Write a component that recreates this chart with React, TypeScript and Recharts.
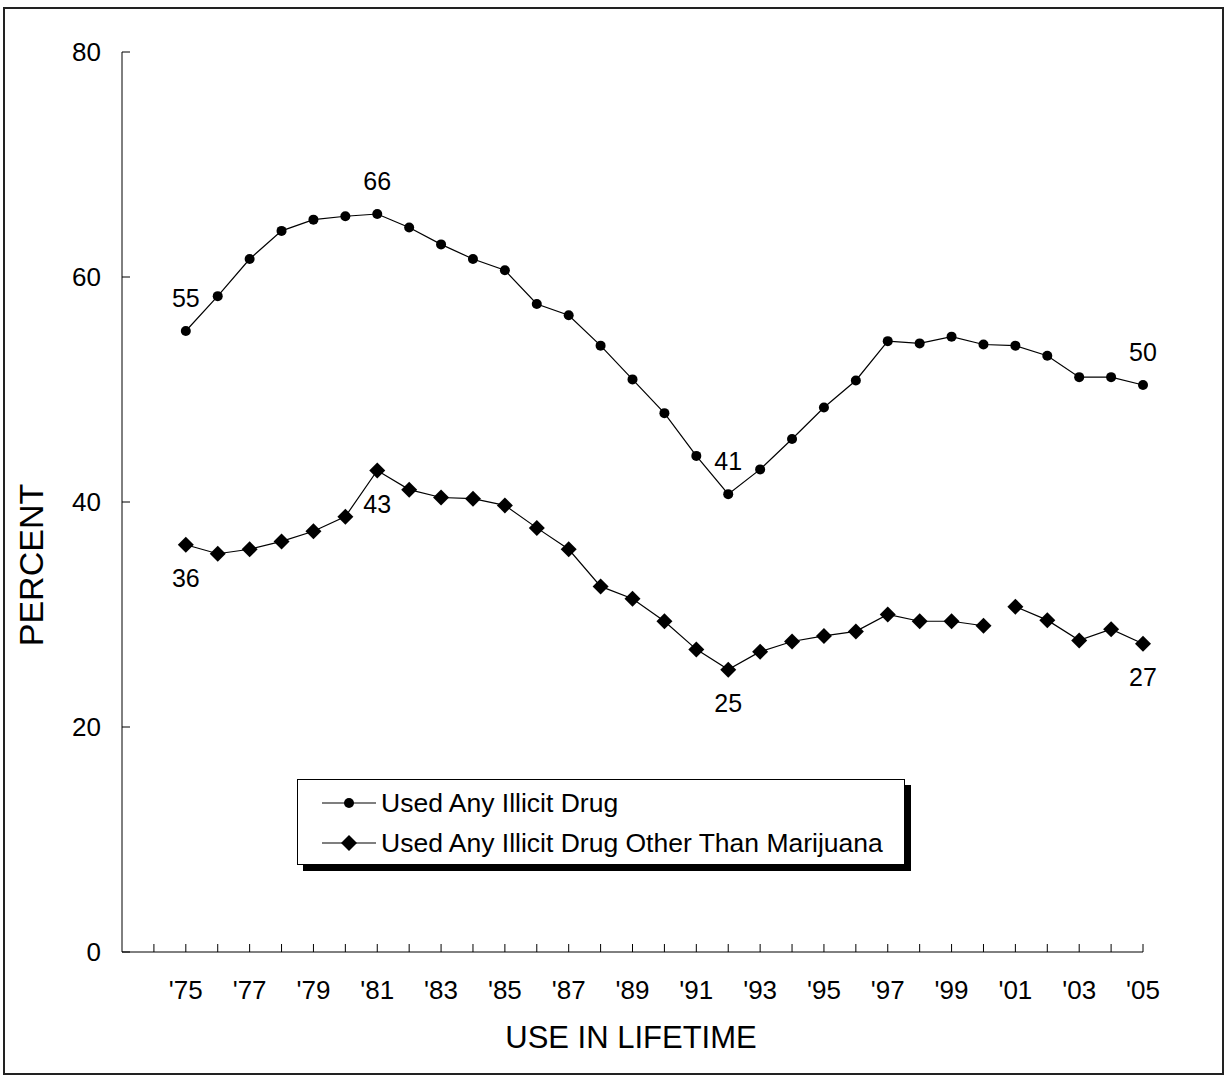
import React from 'react';
import { LineChart, Line, XAxis, YAxis, Legend } from 'recharts';

const FONT = '"Liberation Sans", Arial, Helvetica, sans-serif';

// survey years and lifetime-use percentages (12th graders)
const years = [1975, 1976, 1977, 1978, 1979, 1980, 1981, 1982, 1983, 1984, 1985, 1986, 1987, 1988, 1989, 1990,
  1991, 1992, 1993, 1994, 1995, 1996, 1997, 1998, 1999, 2000, 2001, 2002, 2003, 2004, 2005];
const anyDrug = [55.2, 58.3, 61.6, 64.1, 65.1, 65.4, 65.6, 64.4, 62.9, 61.6, 60.6, 57.6, 56.6, 53.9, 50.9, 47.9,
  44.1, 40.7, 42.9, 45.6, 48.4, 50.8, 54.3, 54.1, 54.7, 54.0, 53.9, 53.0, 51.1, 51.1, 50.4];
const otherDrug = [36.2, 35.4, 35.8, 36.5, 37.4, 38.7, 42.8, 41.1, 40.4, 40.3, 39.7, 37.7, 35.8, 32.5, 31.4, 29.4,
  26.9, 25.1, 26.7, 27.6, 28.1, 28.5, 30.0, 29.4, 29.4, 29.0, 30.7, 29.5, 27.7, 28.7, 27.4];
// question wording changed after this year, so the line breaks there
const lastOldWording = 2000;

const labeledYears = [1975, 1981, 1992, 2005];
const xTicks = [1974, 1975, 1976, 1977, 1978, 1979, 1980, 1981, 1982, 1983, 1984, 1985, 1986, 1987, 1988, 1989,
  1990, 1991, 1992, 1993, 1994, 1995, 1996, 1997, 1998, 1999, 2000, 2001, 2002, 2003, 2004, 2005];
const yTicks = [0, 20, 40, 60, 80];

const legendItems = [
  { name: 'Used Any Illicit Drug', shape: 'circle' },
  { name: 'Used Any Illicit Drug Other Than Marijuana', shape: 'diamond' },
];

const data = years.map((year, i) => ({
  year,
  any: anyDrug[i],
  otherA: year <= lastOldWording ? otherDrug[i] : null,
  otherB: year > lastOldWording ? otherDrug[i] : null,
}));

const diamondPath = (cx: number, cy: number, r: number) =>
  `M${cx},${cy - r}L${cx + r},${cy}L${cx},${cy + r}L${cx - r},${cy}Z`;

const CircleDot = (p: any) => {
  if (p.cy == null || p.cx == null) return <g key={p.index} />;
  return <circle key={p.index} cx={p.cx} cy={p.cy} r={5} fill="#000" />;
};

const DiamondDot = (p: any) => {
  if (p.cy == null || p.cx == null) return <g key={p.index} />;
  return <path key={p.index} d={diamondPath(p.cx, p.cy, 8)} fill="#000" />;
};

const pointLabel = (dir: number) => (p: any) => {
  if (p.value == null || !labeledYears.includes(years[p.index])) return null;
  return (
    <text key={p.index} x={p.x} y={p.y + dir * 33} textAnchor="middle" dominantBaseline="central"
      fontFamily={FONT} fontSize={25} fill="#000">
      {Math.round(p.value)}
    </text>
  );
};

const YTick = (p: any) => (
  <g>
    <line x1={p.x} x2={p.x + 8} y1={p.y} y2={p.y} stroke="#000" />
    <text x={p.x - 21} y={p.y} textAnchor="end" dominantBaseline="central" fontFamily={FONT} fontSize={26} fill="#000">
      {p.payload.value}
    </text>
  </g>
);

const XTick = (p: any) => {
  const yr = p.payload.value;
  return (
    <g>
      <line x1={p.x} x2={p.x} y1={p.y} y2={p.y - 8} stroke="#000" />
      {yr >= 1975 && yr % 2 === 1 && (
        <text x={p.x} y={p.y + 38} textAnchor="middle" dominantBaseline="central" fontFamily={FONT} fontSize={26} fill="#000">
          {"'" + String(yr).slice(2)}
        </text>
      )}
    </g>
  );
};

const LegendBox = () => (
  <div style={{
    width: 608, height: 86, boxSizing: 'border-box', border: '1px solid #000', background: '#fff',
    boxShadow: '6px 6px 0 #000', fontFamily: FONT, fontSize: 26.5, color: '#000', paddingTop: 3,
  }}>
    {legendItems.map((item) => (
      <div key={item.name} style={{ display: 'flex', alignItems: 'center', height: 40, paddingLeft: 24 }}>
        <svg width={54} height={20} style={{ flex: 'none' }}>
          <line x1={0} x2={54} y1={10} y2={10} stroke="#000" strokeWidth={1.2} />
          {item.shape === 'circle'
            ? <circle cx={27} cy={10} r={5} fill="#000" />
            : <path d={diamondPath(27, 10, 8)} fill="#000" />}
        </svg>
        <span style={{ marginLeft: 5, whiteSpace: 'nowrap' }}>{item.name}</span>
      </div>
    ))}
  </div>
);

export default function App() {
  return (
    <div style={{ position: 'absolute', left: 0, top: 0, width: 1225, height: 1076, background: '#fff' }}>
      <LineChart width={1225} height={1076} data={data} margin={{ top: 52, right: 82, left: 62, bottom: 84 }}>
        <XAxis
          type="number" dataKey="year" domain={[1973, 2005]} ticks={xTicks} interval={0} height={40}
          tickLine={false} tickSize={0} tickMargin={0} tick={<XTick />} axisLine={{ stroke: '#000' }}
          label={{
            content: () => (
              <text x={631} y={1037} textAnchor="middle" dominantBaseline="central" fontFamily={FONT} fontSize={31} fill="#000">
                USE IN LIFETIME
              </text>
            ),
          }}
        />
        <YAxis
          type="number" domain={[0, 80]} ticks={yTicks} interval={0} width={60}
          tickLine={false} tickSize={0} tickMargin={0} tick={<YTick />} axisLine={{ stroke: '#000' }}
          label={{
            content: () => (
              <text x={31} y={565} transform="rotate(-90 31 565)" textAnchor="middle" dominantBaseline="central"
                fontFamily={FONT} fontSize={34} fill="#000">
                PERCENT
              </text>
            ),
          }}
        />
        <Legend
          layout="horizontal" verticalAlign="middle" align="center" content={<LegendBox />}
          wrapperStyle={{ left: 297, top: 779, width: 620, height: 95 }}
        />
        <Line dataKey="any" stroke="#000" strokeWidth={1.2} dot={CircleDot} activeDot={false}
          label={pointLabel(-1)} isAnimationActive={false} legendType="none" />
        <Line dataKey="otherA" stroke="#000" strokeWidth={1.2} dot={DiamondDot} activeDot={false}
          label={pointLabel(1)} isAnimationActive={false} legendType="none" />
        <Line dataKey="otherB" stroke="#000" strokeWidth={1.2} dot={DiamondDot} activeDot={false}
          label={pointLabel(1)} isAnimationActive={false} legendType="none" />
      </LineChart>
      <div style={{
        position: 'absolute', left: 3, top: 7, width: 1221, height: 1068, boxSizing: 'border-box',
        border: '2px solid #222', pointerEvents: 'none',
      }} />
    </div>
  );
}
